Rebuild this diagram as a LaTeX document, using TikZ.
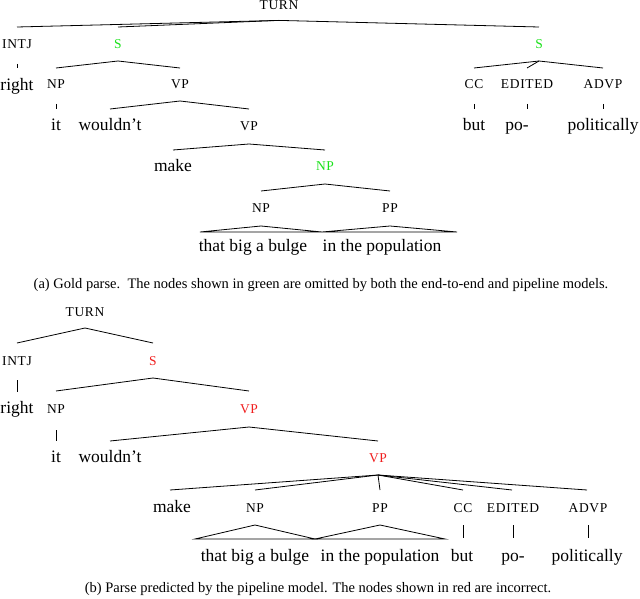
\documentclass[tikz,border=0pt]{standalone}
\usepackage{fontspec}
\setmainfont{Liberation Serif}
\newfontfamily\labfont[LetterSpace=5]{Liberation Serif}
\usetikzlibrary{calc}
\definecolor{goldgreen}{RGB}{25,225,25}
\definecolor{predred}{RGB}{240,30,30}
\begin{document}
\begin{tikzpicture}[x=1pt,y=-1pt,
  lab/.style={font=\labfont\fontsize{13.5}{15}\selectfont, inner sep=0pt, text height=8.9pt, text depth=0pt},
  wrd/.style={font=\fontsize{17.5}{20}\selectfont, inner sep=0pt, text height=12pt, text depth=3.8pt},
  capt/.style={font=\fontsize{14.5}{17}\selectfont, inner sep=0pt},
  br/.style={line width=0.8pt},
  gr/.style={text=goldgreen},
  rd/.style={text=predred}]
\useasboundingbox (0,0) rectangle (640,599);
% ---------------- top tree (gold) ----------------
\node[lab] (TURNa) at (279,5.4) {TURN};
\node[lab] (INTJa) at (17,44) {INTJ};
\node[lab,gr] (Sa) at (118,44) {S};
\node[lab,gr] (Sb) at (539,44) {S};
\node[wrd] (righta) at (17,86) {right};
\node[lab] (NPa) at (56,84) {NP};
\node[lab] (VPa) at (180,84) {VP};
\node[lab] (CCa) at (474,84) {CC};
\node[lab] (EDa) at (527,84) {EDITED};
\node[lab] (ADVPa) at (603,84) {ADVP};
\node[wrd] (ita) at (56,126) {it};
\node[wrd] (wouldnta) at (110,126) {wouldn’t};
\node[lab] (VPb) at (249,126) {VP};
\node[wrd] (buta) at (474,126) {but};
\node[wrd] (poa) at (517,126) {po-};
\node[wrd] (polita) at (603,126) {politically};
\node[wrd] (makea) at (173,167) {make};
\node[lab,gr] (NPb) at (325,166) {NP};
\node[lab] (NPc) at (261,208) {NP};
\node[lab] (PPa) at (390,208) {PP};
\node[wrd] (bulgea) at (253,247) {that big a bulge};
\node[wrd] (popa) at (382,247) {in the population};
\coordinate (EDtopa) at (527,68);
% branches
\draw[br] ($(TURNa)+(0,15)$) -- ($(INTJa)+(0,-17)$);
\draw[br] ($(TURNa)+(0,15)$) -- ($(Sa)+(0,-17)$);
\draw[br] ($(TURNa)+(0,15)$) -- ($(Sb)+(0,-17)$);
\draw[br] ($(INTJa)+(0,20)$) -- ($(righta)+(0,-18)$);
\draw[br] ($(Sa)+(0,17)$) -- ($(NPa)+(0,-16)$);
\draw[br] ($(Sa)+(0,17)$) -- ($(VPa)+(0,-16)$);
\draw[br] ($(Sb)+(0,17)$) -- ($(CCa)+(0,-16)$);
\draw[br] ($(Sb)+(0,17)$) -- (EDtopa);
\draw[br] ($(Sb)+(0,17)$) -- ($(ADVPa)+(0,-16)$);
\draw[br] ($(NPa)+(0,20)$) -- ($(ita)+(0,-17)$);
\draw[br] ($(VPa)+(0,17)$) -- ($(wouldnta)+(0,-17)$);
\draw[br] ($(VPa)+(0,17)$) -- ($(VPb)+(0,-17)$);
\draw[br] ($(CCa)+(0,20)$) -- ($(buta)+(0,-17)$);
\draw[br] (EDtopa |- 0,104) -- (EDtopa |- 0,109);
\draw[br] ($(ADVPa)+(0,20)$) -- ($(polita)+(0,-17)$);
\draw[br] ($(VPb)+(0,18)$) -- ($(makea)+(0,-17)$);
\draw[br] ($(VPb)+(0,18)$) -- ($(NPb)+(0,-16)$);
\draw[br] ($(NPb)+(0,18)$) -- ($(NPc)+(0,-17)$);
\draw[br] ($(NPb)+(0,18)$) -- ($(PPa)+(0,-17)$);
% triangles
\draw[br] ($(NPc)+(0,18)$) -- ($(bulgea)+(-53,-15)$) -- ($(bulgea)+(69,-15)$) -- cycle;
\draw[br] ($(PPa)+(0,18)$) -- ($(bulgea)+(69,-15)$) -- ($(popa)+(75,-15)$) -- cycle;
\node[capt] (capa) at (321,285) {(a) Gold parse.\ \ The nodes shown in green are omitted by both the end-to-end and pipeline models.};
% ---------------- bottom tree (predicted) ----------------
\node[lab] (TURNb) at (85,312) {TURN};
\node[lab] (INTJb) at (17,361) {INTJ};
\node[lab,rd] (Sc) at (153,361) {S};
\node[wrd] (rightb) at (17,409) {right};
\node[lab] (NPd) at (56,409) {NP};
\node[lab,rd] (VPc) at (249,409) {VP};
\node[wrd] (itb) at (56,458) {it};
\node[wrd] (wouldntb) at (110,458) {wouldn’t};
\node[lab,rd] (VPd) at (378,458) {VP};
\node[wrd] (makeb) at (172,508) {make};
\node[lab] (NPe) at (255,508) {NP};
\node[lab] (PPb) at (380,508) {PP};
\node[lab] (CCb) at (463,508) {CC};
\node[lab] (EDb) at (513,508) {EDITED};
\node[lab] (ADVPb) at (588,508) {ADVP};
\node[wrd] (bulgeb) at (255,557) {that big a bulge};
\node[wrd] (popb) at (380,557) {in the population};
\node[wrd] (butb) at (462,557) {but};
\node[wrd] (pob) at (513,557) {po-};
\node[wrd] (politb) at (587,557) {politically};
% branches
\draw[br] ($(TURNb)+(0,16)$) -- ($(INTJb)+(0,-18)$);
\draw[br] ($(TURNb)+(0,16)$) -- ($(Sc)+(0,-18)$);
\draw[br] ($(INTJb)+(0,19)$) -- ($(rightb)+(0,-17)$);
\draw[br] ($(Sc)+(0,17)$) -- ($(NPd)+(0,-18)$);
\draw[br] ($(Sc)+(0,17)$) -- ($(VPc)+(0,-18)$);
\draw[br] ($(NPd)+(0,21)$) -- ($(itb)+(0,-17)$);
\draw[br] ($(VPc)+(0,18)$) -- ($(wouldntb)+(0,-17)$);
\draw[br] ($(VPc)+(0,18)$) -- ($(VPd)+(0,-17)$);
\draw[br] ($(VPd)+(0,17)$) -- ($(makeb)+(-2,-18)$);
\draw[br] ($(VPd)+(0,17)$) -- ($(NPe)+(0,-18)$);
\draw[br] ($(VPd)+(0,17)$) -- ($(PPb)+(0,-18)$);
\draw[br] ($(VPd)+(0,17)$) -- ($(CCb)+(0,-18)$);
\draw[br] ($(VPd)+(0,17)$) -- ($(EDb)+(-1,-18)$);
\draw[br] ($(VPd)+(0,17)$) -- ($(ADVPb)+(-1,-18)$);
\draw[br] ($(CCb)+(0,17)$) -- ($(butb)+(1,-19)$);
\draw[br] ($(EDb)+(0,17)$) -- ($(pob)+(0,-19)$);
\draw[br] ($(ADVPb)+(0,17)$) -- ($(politb)+(1,-19)$);
% triangles
\draw[br] ($(NPe)+(0,17)$) -- ($(bulgeb)+(-60,-18)$) -- ($(bulgeb)+(60,-18)$) -- cycle;
\draw[br] ($(PPb)+(0,17)$) -- ($(bulgeb)+(60,-18)$) -- ($(popb)+(65,-18)$) -- cycle;
\node[capt] (capb) at (318,589) {(b) Parse predicted by the pipeline model. The nodes shown in red are incorrect.};
\end{tikzpicture}
\end{document}
